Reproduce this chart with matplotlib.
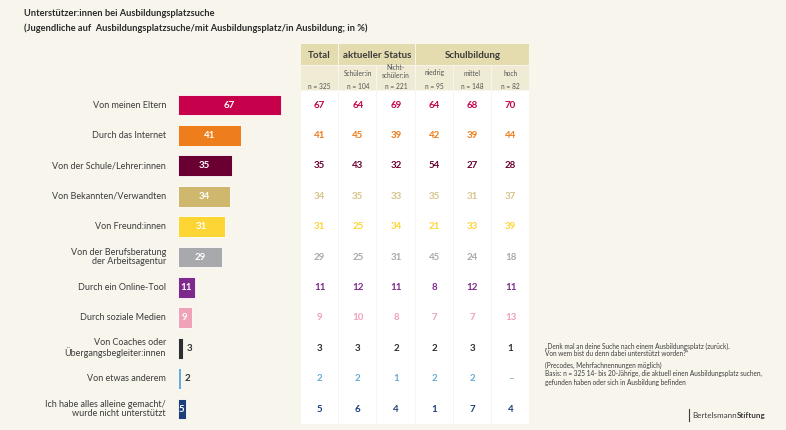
import matplotlib.pyplot as plt
from matplotlib.transforms import blended_transform_factory

plt.rcParams['font.family'] = ['Lato', 'DejaVu Sans']

# --- data -------------------------------------------------------------------
labels = [
    "Von meinen Eltern",
    "Durch das Internet",
    "Von der Schule/Lehrer:innen",
    "Von Bekannten/Verwandten",
    "Von Freund:innen",
    "Von der Berufsberatung\nder Arbeitsagentur",
    "Durch ein Online-Tool",
    "Durch soziale Medien",
    "Von Coaches oder\nÜbergangsbegleiter:innen",
    "Von etwas anderem",
    "Ich habe alles alleine gemacht/\nwurde nicht unterstützt",
]
total = [67, 41, 35, 34, 31, 29, 11, 9, 3, 2, 5]
schueler = [64, 45, 43, 35, 25, 25, 12, 10, 3, 2, 6]
nicht_schueler = [69, 39, 32, 33, 34, 31, 11, 8, 2, 1, 4]
niedrig = [64, 42, 54, 35, 21, 45, 8, 7, 2, 2, 1]
mittel = [68, 39, 27, 31, 33, 24, 12, 7, 3, 2, 7]
hoch = [70, 44, 28, 37, 39, 18, 11, 13, 1, None, 4]

columns = [total, schueler, nicht_schueler, niedrig, mittel, hoch]
col_sub = ["", "Schüler:in", "Nicht-\nschüler:in", "niedrig", "mittel", "hoch"]
col_n = ["n = 325", "n = 104", "n = 221", "n = 95", "n = 148", "n = 82"]

bar_colors = ["#c6004a", "#ee7d1b", "#6a0031", "#cfb86d", "#fdd535", "#a7a9ac",
              "#7d2a8c", "#efa2b8", "#2e2e2e", "#6aaad3", "#1c3f7a"]
text_colors = ["#c6004a", "#ee7d1b", "#6a0031", "#d5c48a", "#fdd535", "#a7a9ac",
               "#7d2a8c", "#efa2b8", "#2e2e2e", "#6aaad3", "#1c3f7a"]

BG = "#f8f5ec"
W, H = 786, 430

fig = plt.figure(figsize=(W / 100, H / 100), dpi=100, facecolor=BG)

# background axes in pixel units
bg = fig.add_axes([0, 0, 1, 1], zorder=0)
bg.set_xlim(0, W)
bg.set_ylim(H, 0)
bg.axis("off")
bg.set_facecolor(BG)


def px_axes(x0, y0, x1, y1, **kw):
    return fig.add_axes([x0 / W, (H - y1) / H, (x1 - x0) / W, (y1 - y0) / H], **kw)


# --- bars -------------------------------------------------------------------
ax = px_axes(178, 89.8, 178 + 153, 424.2, zorder=2)
ax.patch.set_alpha(0)
rows = list(range(len(labels)))
ax.barh(rows, total, height=0.68, color=bar_colors, edgecolor="#ffffff",
        linewidth=0.6)
ax.set_xlim(0, 100)
ax.set_ylim(len(labels) - 0.5, -0.5)
ax.axis("off")

for i, v in enumerate(total):
    if v >= 5:
        ax.text(v / 2, i, str(v), ha="center", va="center", color="white",
                fontsize=7, fontweight="bold")
    else:
        ax.text(v + 2.5, i, str(v), ha="left", va="center", color="#333333",
                fontsize=7, fontweight="bold")

label_tr = blended_transform_factory(bg.transData, ax.transData)
for i, lab in enumerate(labels):
    bg.text(166, i, lab, transform=label_tr, ha="right", va="center",
            fontsize=6.5, color="#3c3c3c", linespacing=1.05)

# --- table ------------------------------------------------------------------
col_left = [301 + k * 38.2 for k in range(6)]
col_w = 37.2
HEAD1, HEAD2 = "#e4dcaf", "#efebd4"

# top header row
groups = [(0, 1, "Total"), (1, 3, "aktueller Status"), (3, 6, "Schulbildung")]
for a, b, name in groups:
    x0 = col_left[a]
    x1 = col_left[b - 1] + col_w
    bg.add_patch(plt.Rectangle((x0, 44.3), x1 - x0, 20.5, color=HEAD1, lw=0))
    bg.text((x0 + x1) / 2, 55, name, ha="center", va="center", fontsize=7,
            fontweight="bold", color="#3c3c3c")

for k in range(6):
    x0 = col_left[k]
    bg.add_patch(plt.Rectangle((x0, 65.5), col_w, 24.5, color=HEAD2, lw=0))
    bg.add_patch(plt.Rectangle((x0, 90.5), col_w, 333, color="white", lw=0))
    cx = x0 + col_w / 2
    if col_sub[k]:
        bg.text(cx, 73 if "\n" not in col_sub[k] else 71.5, col_sub[k],
                ha="center", va="center", fontsize=4.8, color="#555555",
                linespacing=1.0)
    bg.text(cx, 86.5, col_n[k], ha="center", va="center", fontsize=4.8,
            color="#555555")
    for i, v in enumerate(columns[k]):
        s = str(v) if v is not None else "–"
        bg.text(cx, i, s, transform=label_tr, ha="center", va="center",
                fontsize=7, fontweight="bold" if v is not None else "normal",
                color=text_colors[i])

# --- titles and notes -------------------------------------------------------
bg.text(24, 13, "Unterstützer:innen bei Ausbildungsplatzsuche", ha="left",
        va="center", fontsize=6.7, fontweight="bold", color="#2a2a2a")
bg.text(24, 28, "(Jugendliche auf  Ausbildungsplatzsuche/mit Ausbildungsplatz/in Ausbildung; in %)",
        ha="left", va="center", fontsize=6.7, fontweight="bold", color="#2a2a2a")

notes = [
    (346, "„Denk mal an deine Suche nach einem Ausbildungsplatz (zurück)."),
    (354, "Von wem bist du denn dabei unterstützt worden?“"),
    (365, "(Precodes, Mehrfachnennungen möglich)"),
    (373, "Basis: n = 325 14- bis 20-Jährige, die aktuell einen Ausbildungsplatz suchen,"),
    (382, "gefunden haben oder sich in Ausbildung befinden"),
]
for y, t in notes:
    bg.text(545, y, t, ha="left", va="center", fontsize=4.7, color="#3c3c3c")

# logo
bg.plot([688.5, 688.5], [409, 421], color="#3c3c3c", lw=0.8)
t1 = bg.text(692, 415.5, "Bertelsmann", ha="left", va="center", fontsize=5.8,
             color="#3c3c3c")
renderer = fig.canvas.get_renderer()
ext = t1.get_window_extent(renderer=renderer)
x_end = bg.transData.inverted().transform((ext.x1, ext.y0))[0]
bg.text(x_end, 415.5, "Stiftung", ha="left", va="center", fontsize=5.8,
        fontweight="bold", color="#3c3c3c")

fig.savefig("out.png", dpi=100, facecolor=BG)
